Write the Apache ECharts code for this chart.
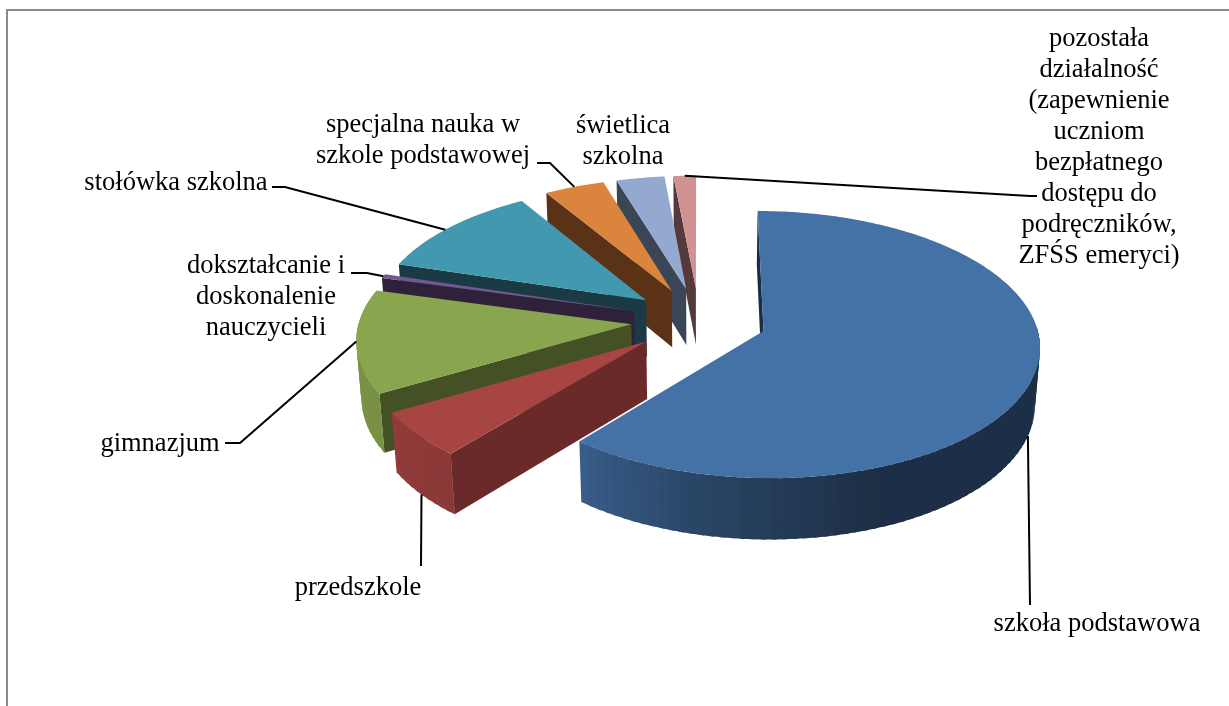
<!DOCTYPE html>
<html>
<head>
<meta charset="utf-8">
<style>
  html, body { margin: 0; padding: 0; background: #fff; }
  #chart { width: 1229px; height: 706px; }
</style>
<script src="https://cdn.jsdelivr.net/npm/echarts@6/dist/echarts.min.js"></script>
</head>
<body>
<div id="chart"></div>
<script>
const categories = [
  "szkoła podstawowa",
  "przedszkole",
  "gimnazjum",
  "dokształcanie i\ndoskonalenie\nnauczycieli",
  "stołówka szkolna",
  "specjalna nauka w\nszkole podstawowej",
  "świetlica\nszkolna",
  "pozostała\ndziałalność\n(zapewnienie\nuczniom\nbezpłatnego\ndostępu do\npodręczników,\nZFŚS emeryci)",
];
const shares = [61.0, 5.6, 12.65, 0.5, 11.55, 4.0, 3.2, 1.5];

// office 2007 palette: top face, cut face
const topColors = ["#4471a6", "#a74543", "#89a54e", "#71588f", "#4198af", "#db843d", "#93a9cf", "#d19392"];
const cutColors = ["#1b2d44", "#6b2a2a", "#445124", "#2e2139", "#1a3b46", "#5a3317", "#3a4556", "#543a3a"];

// label block centre (x, y) and the leader's elbows
const labelPos = [[1097, 624], [358, 588], [160, 444], [266, 297], [176, 183], [423, 141], [623, 142], [1099, 148]];
const leaderElbows = [
  [[1030, 605]],
  [[421, 566]],
  [[240, 443], [225, 443]],
  [[367, 273], [351, 273]],
  [[285, 187], [272, 187]],
  [[550, 163], [537, 163]],
  [],
  [[1030, 196], [1037, 196]],
];
// 0 = leader starts on the top edge, -1 = on the bottom edge of the wall
const leaderZ = [-1, -1, 0, 0, 0, 0, 0, 0];
// degrees away from the slice's middle where the leader starts
const leaderShift = [0, 0, 0, 0, -1.5, 0, 0, 0];

// fake camera, tuned by eye
const CX = 699, CY = 320, SX = 272, SY = 130, PERSP = 0.1, DROP = 57, Q = 0.015;
const EXPLODE = 0.25;
const DEG = Math.PI / 180;

const total = shares.reduce((a, b) => a + b, 0);
const slices = [];
let acc = 0;
shares.forEach((v) => {
  const from = (acc / total) * 360;
  acc += v;
  const to = (acc / total) * 360;
  const mid = (from + to) / 2;
  slices.push({
    from, to, mid,
    ox: EXPLODE * Math.sin(mid * DEG),
    oy: EXPLODE * Math.cos(mid * DEG),
  });
});

function project(X, Y, Z) {
  const w = 1 + PERSP * Y - Q * Z;
  return [CX + (SX * X) / w, CY - (SY * Y) / w - (DROP * Z) / (1 + PERSP * Y)];
}

function rimPoint(s, deg, Z) {
  return project(s.ox + Math.sin(deg * DEG), s.oy + Math.cos(deg * DEG), Z);
}

// how much the wall is darkened, by its angle on the pie
const wallStops = [[90, 0.42], [160, 0.42], [194, 0.62], [218, 0.82], [245, 0.88], [290, 0.9]];

function wallShade(deg) {
  if (deg <= wallStops[0][0]) return wallStops[0][1];
  for (let i = 1; i < wallStops.length; i++) {
    if (deg <= wallStops[i][0]) {
      const a = wallStops[i - 1], b = wallStops[i];
      return a[1] + ((b[1] - a[1]) * (deg - a[0])) / (b[0] - a[0]);
    }
  }
  return wallStops[wallStops.length - 1][1];
}

function darken(hex, f) {
  const n = parseInt(hex.slice(1), 16);
  const r = Math.round(((n >> 16) & 255) * f);
  const g = Math.round(((n >> 8) & 255) * f);
  const b = Math.round((n & 255) * f);
  return `rgb(${r},${g},${b})`;
}

function poly(points, fill) {
  return { type: "polygon", shape: { points }, style: { fill } };
}

function renderSlice(params, api) {
  const i = api.value(0);
  const s = slices[i];
  const kids = [];

  // cut face on the starting edge
  kids.push(poly([
    project(s.ox, s.oy, 0),
    rimPoint(s, s.from, 0),
    rimPoint(s, s.from, -1),
    project(s.ox, s.oy, -1),
  ], cutColors[i]));

  // outer wall in thin strips, each one overlapping the next to hide seams
  const wFrom = Math.max(s.from, 88);
  const wTo = Math.min(s.to, 285);
  for (let d = wTo; d > wFrom; d -= 2) {
    const e = Math.max(d - 3, wFrom);
    kids.push(poly([
      rimPoint(s, d, 0), rimPoint(s, e, 0), rimPoint(s, e, -1), rimPoint(s, d, -1),
    ], darken(topColors[i], wallShade((d + e) / 2))));
  }

  // top face
  const top = [project(s.ox, s.oy, 0)];
  for (let d = s.from; d < s.to; d += 1) top.push(rimPoint(s, d, 0));
  top.push(rimPoint(s, s.to, 0));
  kids.push(poly(top, topColors[i]));

  return { type: "group", children: kids };
}

function renderLabel(params, api) {
  const i = api.value(0);
  const s = slices[i];
  const kids = [];
  if (leaderElbows[i].length) {
    const start = rimPoint(s, s.mid + leaderShift[i], leaderZ[i]);
    kids.push({
      type: "polyline",
      shape: { points: [start].concat(leaderElbows[i]) },
      style: { stroke: "#000", lineWidth: 2, fill: null },
    });
  }
  kids.push({
    type: "text",
    x: labelPos[i][0],
    y: labelPos[i][1],
    style: {
      text: categories[i],
      fill: "#000",
      font: '26.5px "Liberation Serif"',
      lineHeight: 31,
      align: "center",
      verticalAlign: "middle",
    },
  });
  return { type: "group", children: kids };
}

// back slices first, so the near ones sit on top
const drawOrder = shares.map((v, i) => [i, v]).reverse();

const chart = echarts.init(document.getElementById("chart"));
chart.setOption({
  animation: false,
  backgroundColor: "#fff",
  graphic: [{
    type: "rect",
    silent: true,
    shape: { x: 7, y: 10, width: 1400, height: 900 },
    style: { fill: null, stroke: "#8a8a8a", lineWidth: 2 },
  }],
  series: [
    { type: "custom", coordinateSystem: "none", silent: true, clip: false, z: 2,
      renderItem: renderSlice, data: drawOrder },
    { type: "custom", coordinateSystem: "none", silent: true, clip: false, z: 3,
      renderItem: renderLabel, data: drawOrder },
  ],
});
</script>
</body>
</html>
